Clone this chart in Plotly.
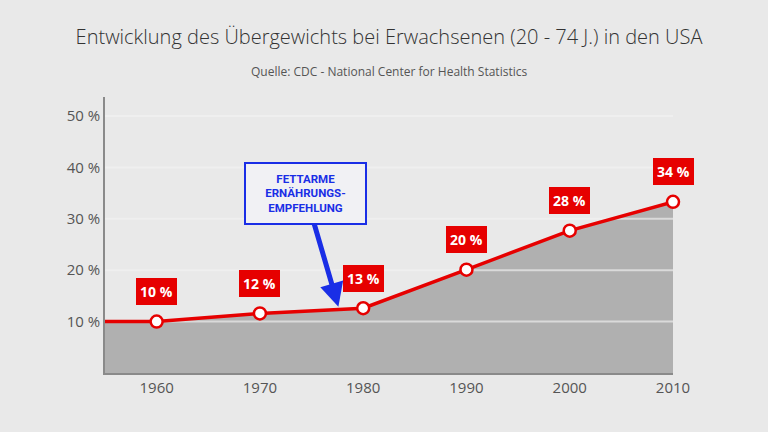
import plotly.graph_objects as go

years = [1955, 1960, 1970, 1980, 1990, 2000, 2010]
values = [10.0, 10.0, 11.6, 12.6, 20.1, 27.7, 33.3]
labels = ["", "10 %", "12 %", "13 %", "20 %", "28 %", "34 %"]
tick_vals = [10, 20, 30, 40, 50]
tick_text = ["10 %", "20 %", "30 %", "40 %", "50 %"]
x_ticks = [1960, 1970, 1980, 1990, 2000, 2010]
note_text = "FETTARME<br>ERNÄHRUNGS-<br>EMPFEHLUNG"
note_year, note_value = 1977.6, 12.9
title_text = "Entwicklung des Übergewichts bei Erwachsenen (20 - 74 J.) in den USA"
subtitle_text = "Quelle: CDC - National Center for Health Statistics"

BG = "#e9e9e9"
RED = "#e60000"
BLUE = "#1a2ee6"
x0, x1 = years[0], years[-1]

fig = go.Figure()
fig.add_trace(go.Scatter(
    x=years, y=values, mode="lines", fill="tozeroy",
    fillcolor="#b0b0b0", line=dict(color="rgba(0,0,0,0)", width=0),
    hoverinfo="skip", showlegend=False,
))
gx, gy = [], []
for tv in tick_vals:
    gx += [x0, x1, None]
    gy += [tv, tv, None]
fig.add_trace(go.Scatter(
    x=gx, y=gy, mode="lines", line=dict(color="rgba(243,243,243,0.63)", width=2),
    hoverinfo="skip", showlegend=False,
))
fig.add_trace(go.Scatter(
    x=years, y=values, mode="lines", line=dict(color=RED, width=3.5),
    hoverinfo="skip", showlegend=False, cliponaxis=False,
))
fig.add_trace(go.Scatter(
    x=years[1:], y=values[1:], mode="markers",
    marker=dict(size=12, color="white", line=dict(color=RED, width=2.5)),
    cliponaxis=False, showlegend=False,
))

for x, y, t in zip(years, values, labels):
    if not t:
        continue
    fig.add_annotation(
        x=x, y=y, text="<b>" + t + "</b>", showarrow=False, yshift=30,
        bgcolor=RED, borderpad=3, bordercolor=RED, borderwidth=1,
        font=dict(family="Open Sans", size=14, color="white"),
    )

fig.add_annotation(
    x=note_year, y=note_value, text="<b>" + note_text + "</b>",
    showarrow=True, ax=-33, ay=-113, axref="pixel", ayref="pixel",
    arrowcolor=BLUE, arrowwidth=5, arrowhead=2, arrowsize=0.95,
    bgcolor="#f1f1f4", bordercolor=BLUE, borderwidth=2, borderpad=2,
    width=115, height=55,
    font=dict(family="Roboto", size=11.5, color=BLUE),
)

fig.add_annotation(
    x=0.5, xref="paper", y=1.094, yref="paper", text=subtitle_text,
    showarrow=False, xanchor="center", yanchor="middle",
    font=dict(family="Open Sans", size=12, color="#555"),
)

fig.update_layout(
    width=768, height=432,
    paper_bgcolor=BG, plot_bgcolor=BG,
    margin=dict(l=105, r=95, t=97, b=59),
    title=dict(
        text=title_text, x=0.5, xref="paper", xanchor="center",
        y=1 - 37 / 432, yref="container", yanchor="middle",
        font=dict(family="Open Sans", size=20, color="#333", weight=300),
    ),
    xaxis=dict(range=[x0, x1], tickvals=x_ticks, showgrid=False,
               showline=True, linecolor="#8a8a8a", linewidth=1.5, zeroline=False,
               tickfont=dict(family="Open Sans", size=15, color="#555"), ticks="", ticklen=6),
    yaxis=dict(range=[0, 53.7], tickvals=tick_vals, ticktext=tick_text, showgrid=False,
               showline=True, linecolor="#8a8a8a", linewidth=1.5, zeroline=False,
               tickfont=dict(family="Open Sans", size=15, color="#555"), ticks=""),
)

fig.write_html("out.html")
